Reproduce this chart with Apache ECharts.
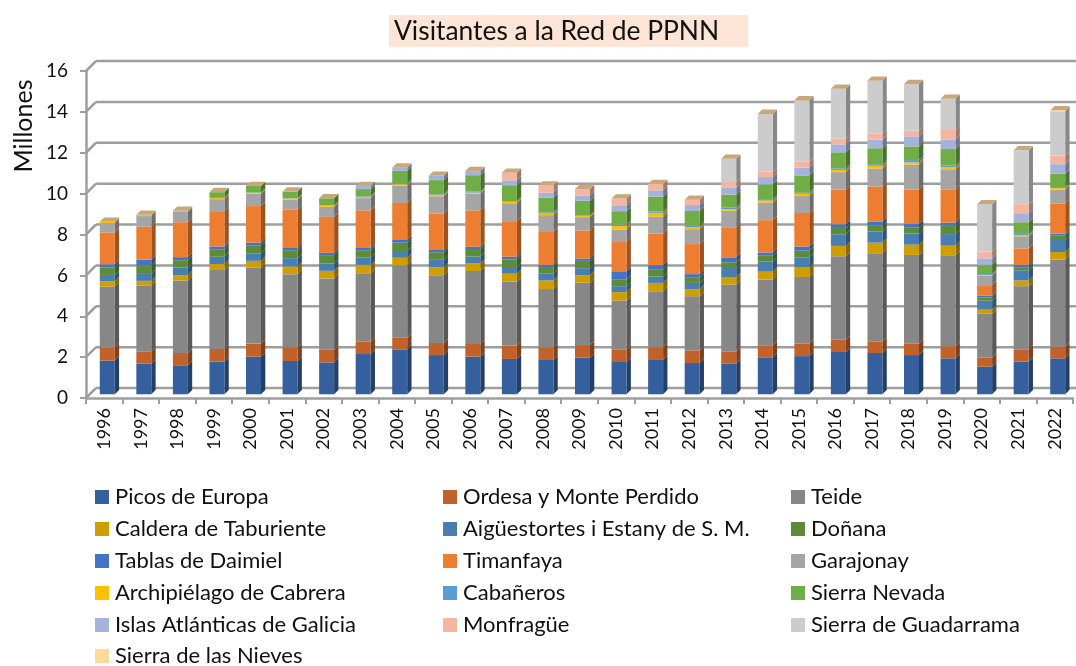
<!DOCTYPE html>
<html>
<head>
<meta charset="utf-8">
<title>Visitantes a la Red de PPNN</title>
<script src="https://cdn.jsdelivr.net/npm/echarts@6/dist/echarts.min.js"></script>
<style>
*{margin:0;padding:0;}
html,body{background:#fff;}
#main{width:1076px;height:666px;}
</style>
</head>
<body>
<div id="main"></div>
<script>
var years = ['1996','1997','1998','1999','2000','2001','2002','2003','2004','2005','2006','2007','2008','2009','2010','2011','2012','2013','2014','2015','2016','2017','2018','2019','2020','2021','2022'];
var yTicks = [0,2,4,6,8,10,12,14,16];

var picos    = [1.65,1.5,1.42,1.6,1.84,1.63,1.56,1.97,2.2,1.92,1.84,1.73,1.68,1.79,1.58,1.68,1.53,1.51,1.81,1.87,2.07,2.02,1.92,1.76,1.35,1.6,1.76];
var ordesa   = [.64,.6,.6,.62,.64,.67,.62,.6,.57,.59,.62,.64,.62,.62,.62,.62,.62,.59,.59,.6,.6,.55,.57,.59,.44,.6,.57];
var teide    = [2.98,3.22,3.55,3.86,3.71,3.58,3.49,3.35,3.55,3.32,3.57,3.14,2.85,3.05,2.39,2.74,2.65,3.27,3.21,3.27,4.09,4.33,4.33,4.45,2.15,3.09,4.27];
var caldera  = [.26,.23,.26,.29,.34,.37,.37,.41,.36,.39,.37,.39,.42,.37,.41,.41,.34,.37,.39,.46,.5,.52,.5,.47,.2,.28,.36];
var aigues   = [.31,.34,.37,.36,.37,.41,.36,.36,.33,.36,.34,.33,.33,.34,.29,.31,.31,.44,.49,.5,.57,.55,.55,.57,.44,.5,.59];
var donana   = [.37,.42,.36,.37,.39,.39,.41,.36,.41,.37,.37,.37,.33,.36,.34,.36,.28,.28,.29,.33,.31,.29,.28,.41,.16,.15,.21];
var tablas   = [.15,.28,.15,.13,.13,.11,.11,.11,.13,.11,.11,.13,.1,.11,.39,.2,.15,.24,.16,.2,.18,.18,.18,.15,.08,.11,.1];
var timanfaya= [1.56,1.61,1.71,1.73,1.79,1.87,1.76,1.84,1.81,1.78,1.78,1.74,1.61,1.38,1.43,1.55,1.47,1.47,1.58,1.64,1.69,1.73,1.69,1.63,.52,.81,1.48];
var garajonay= [.46,.52,.5,.59,.6,.5,.49,.6,.86,.85,.81,.88,.83,.65,.6,.83,.73,.81,.85,.83,.86,.88,1.22,.98,.46,.59,.67];
var cabrera  = [.05,.05,.05,.05,.05,.05,.06,.06,.06,.06,.06,.07,.07,.05,.18,.18,.1,.08,.11,.11,.11,.13,.11,.11,.03,.05,.08];
var cabaneros= [.01,.01,.01,.01,.01,.01,.01,.03,.03,.03,.05,.03,.06,.03,.08,.07,.07,.07,.07,.05,.08,.08,.11,.07,.05,.07,.05];
var nevada   = [0,0,0,.28,.32,.33,.35,.35,.62,.7,.8,.78,.72,.72,.65,.72,.72,.64,.72,.85,.78,.78,.67,.81,.46,.57,.65];
var islas    = [0,0,0,0,0,0,0,.15,.16,.21,.2,.24,.24,.26,.29,.31,.29,.33,.36,.39,.39,.42,.49,.47,.31,.44,.47];
var monfrague= [0,0,0,0,0,0,0,0,0,0,0,.37,.36,.31,.33,.31,.26,.28,.26,.28,.28,.29,.28,.46,.34,.44,.42];
var guadarrama=[0,0,0,0,0,0,0,0,0,0,0,0,0,0,0,0,0,1.14,2.83,3,2.44,2.59,2.28,1.53,2.31,2.64,2.17];
var nieves   = [0,0,0,0,0,0,0,0,0,0,0,0,0,0,0,0,0,0,0,0,0,0,0,0,0,0,.05];

var names = ['Picos de Europa','Ordesa y Monte Perdido','Teide','Caldera de Taburiente','Aigüestortes i Estany de S. M.','Doñana','Tablas de Daimiel','Timanfaya','Garajonay','Archipiélago de Cabrera','Cabañeros','Sierra Nevada','Islas Atlánticas de Galicia','Monfragüe','Sierra de Guadarrama','Sierra de las Nieves'];
var layers = [picos,ordesa,teide,caldera,aigues,donana,tablas,timanfaya,garajonay,cabrera,cabaneros,nevada,islas,monfrague,guadarrama,nieves];
var colors = ['#365F9E','#C0622A','#878787','#CF9E00','#4A7EAF','#5C8B3A','#4472C4','#ED7D31','#A5A5A5','#FFC000','#5B9BD5','#70AD47','#A5B3DA','#F4B6A0','#CCCCCC','#FFD89C'];

var fontName = 'Lato';
var wallDepth = 10;   // profundidad de la pared del fondo
var barShift = 3;     // la barra va a media profundidad
var barDepth = 4.3;
var barWidth = 15;
var gridColor = '#9E9E9E';

var myChart = echarts.init(document.getElementById('main'));

// oscurece un color para las caras lateral y superior
function shade(hex, f) {
    var n = parseInt(hex.slice(1), 16);
    var r = Math.round((n >> 16) * f);
    var g = Math.round(((n >> 8) & 255) * f);
    var b = Math.round((n & 255) * f);
    return 'rgb(' + r + ',' + g + ',' + b + ')';
}

function renderWall(params, api) {
    var cs = params.coordSys;
    var p = api.coord([0, api.value(0)]);
    var y = p[1];
    var style = {stroke: gridColor, lineWidth: 2.5, fill: null};
    return {
        type: 'group',
        children: [
            {type: 'line', shape: {x1: cs.x, y1: y, x2: cs.x + wallDepth, y2: y - wallDepth}, style: style},
            {type: 'line', shape: {x1: cs.x + wallDepth, y1: y - wallDepth, x2: cs.x + cs.width + wallDepth, y2: y - wallDepth}, style: style}
        ]
    };
}

function makeRender(color, isLast) {
    var side = shade(color, 0.66);
    var topFace = shade(color, 0.78);
    return function (params, api) {
        var i = api.value(0);
        var a = api.coord([i, api.value(1)]);
        var b = api.coord([i, api.value(2)]);
        var x0 = a[0] - barWidth / 2 + barShift;
        var x1 = x0 + barWidth;
        var y0 = a[1] - barShift - 0.7;
        var y1 = b[1] - barShift - 0.7;
        var d = barDepth;
        var kids = [];
        kids.push({type: 'polygon', shape: {points: [[x1, y0], [x1 + d, y0 - d], [x1 + d, y1 - d], [x1, y1]]}, style: {fill: side}});
        kids.push({type: 'rect', shape: {x: x0, y: y1, width: barWidth, height: y0 - y1}, style: {fill: color}});
        if (isLast) {
            kids.push({type: 'polygon', shape: {points: [[x0, y1], [x1, y1], [x1 + d, y1 - d], [x0 + d, y1 - d]]}, style: {fill: topFace}});
        }
        return {type: 'group', children: kids};
    };
}

var series = [{
    name: 'pared',
    type: 'custom',
    silent: true,
    clip: false,
    z: 1,
    renderItem: renderWall,
    encode: {x: 1, y: 0},
    data: yTicks.map(function (t) { return [t, 0]; })
}];

var acum = years.map(function () { return 0; });
layers.forEach(function (vals, k) {
    var rows = vals.map(function (v, i) {
        var r = [i, acum[i], acum[i] + v];
        acum[i] += v;
        return r;
    });
    series.push({
        name: names[k],
        type: 'custom',
        clip: false,
        z: 2,
        itemStyle: {color: colors[k]},
        renderItem: makeRender(colors[k], k === layers.length - 1),
        encode: {x: 0, y: [1, 2]},
        data: rows
    });
});

function legendCol(x, top, list) {
    return {
        show: true,
        orient: 'vertical',
        left: x,
        top: top,
        padding: 0,
        itemWidth: 14,
        itemHeight: 14,
        itemGap: 10,
        icon: 'rect',
        selectedMode: false,
        data: list,
        textStyle: {fontFamily: fontName, fontSize: 22, color: '#111', lineHeight: 20, padding: [0, 0, 0, 1]}
    };
}

var option = {
    animation: false,
    backgroundColor: '#fff',
    title: {
        text: 'Visitantes a la Red de PPNN',
        left: 389,
        top: 15,
        backgroundColor: '#FCE4D6',
        padding: [1, 29, 0, 5],
        textStyle: {fontFamily: fontName, fontSize: 26.4, lineHeight: 31, fontWeight: 'normal', color: '#111'}
    },
    graphic: [{
        type: 'text',
        x: 24,
        y: 126,
        rotation: Math.PI / 2,
        style: {text: 'Millones', fontFamily: fontName, fontSize: 25, fill: '#111', align: 'center', verticalAlign: 'middle'}
    }],
    legend: [
        legendCol(95, 486, [names[0], names[3], names[6], names[9], names[12]]),
        legendCol(95, 645, [names[15]]),
        legendCol(443, 486, [names[1], names[4], names[7], names[10], names[13]]),
        legendCol(791, 486, [names[2], names[5], names[8], names[11], names[14]])
    ],
    grid: {left: 86, top: 71, width: 987, height: 327, outerBoundsMode: 'none'},
    xAxis: {
        type: 'category',
        data: years,
        boundaryGap: true,
        axisLine: {lineStyle: {color: gridColor, width: 2.5}},
        axisTick: {show: true, length: 6, lineStyle: {color: gridColor, width: 2}},
        axisLabel: {rotate: 90, interval: 0, margin: 10, fontFamily: fontName, fontSize: 18, color: '#111'}
    },
    yAxis: {
        type: 'value',
        min: 0,
        max: 16,
        interval: 2,
        axisLine: {show: true, lineStyle: {color: gridColor, width: 2.5}},
        axisTick: {show: true, length: 6, lineStyle: {color: gridColor, width: 2}},
        axisLabel: {margin: 18, fontFamily: fontName, fontSize: 19, color: '#111'},
        splitLine: {show: false}
    },
    series: series
};
myChart.setOption(option);
</script>
</body>
</html>
